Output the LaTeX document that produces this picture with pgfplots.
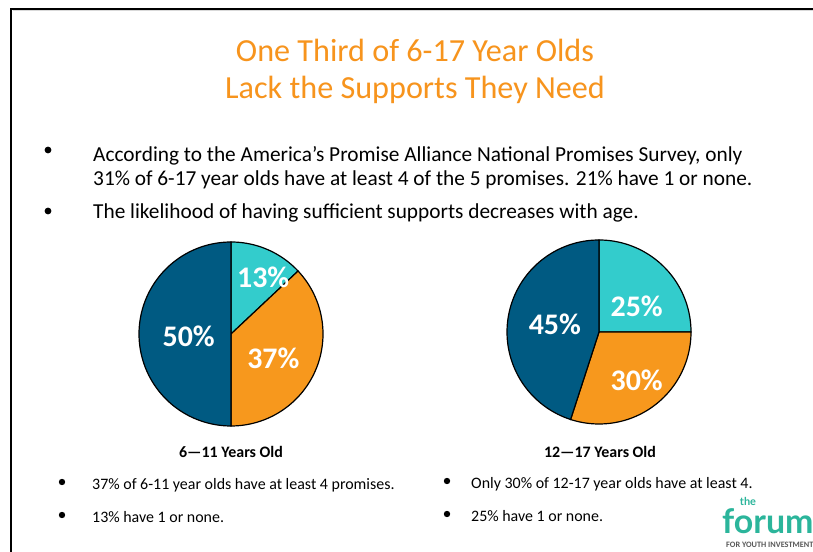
\documentclass[border=0pt]{standalone}
\usepackage{pgfplots}
\pgfplotsset{compat=1.18}
\usepackage{fontspec}
\setmainfont{Carlito}
\newfontfamily\logofont{Lato}
\definecolor{pieblue}{HTML}{005A82}
\definecolor{pieorange}{HTML}{F7981D}
\definecolor{pieteal}{HTML}{33CCCC}
\definecolor{titleorange}{HTML}{F7941D}
\definecolor{forumgreen}{HTML}{2BB59B}
\begin{document}
\begin{tikzpicture}[x=1bp,y=1bp]
\path[use as bounding box, fill=white] (0,0) rectangle (813,552);
% slide border
\draw[black!15, line width=1bp] (13,541) -- (813,541);
\draw[black, line width=2.5bp] (11,0) -- (11,543) -- (813,543);
% title
\node[font=\fontsize{32.3}{38}\selectfont, text=titleorange] at (415,502) {One Third of 6-17 Year Olds};
\node[font=\fontsize{32.3}{38}\selectfont, text=titleorange] at (415,462) {Lack the Supports They Need};
% top bullets
\fill (48,402) circle (3.4bp);
\fill (48,341) circle (3.4bp);
\node[anchor=base west, inner sep=0pt, font=\fontsize{21.4}{25}\selectfont] at (93,390) {According to the America’s Promise Alliance National Promises Survey, only};
\node[anchor=base west, inner sep=0pt, font=\fontsize{21.4}{25}\selectfont] at (93,366) {31\% of 6-17 year olds have at least 4 of the 5 promises. 21\% have 1 or none.};
\node[anchor=base west, inner sep=0pt, font=\fontsize{21.4}{25}\selectfont] at (93,333) {The likelihood of having sufficient supports decreases with age.};
% left pie: 13, 37, 50
\begin{axis}[at={(231bp,218bp)}, anchor=origin, width=184bp, height=184bp, scale only axis, hide axis,
  xmin=-1, xmax=1, ymin=-1, ymax=1, clip=false]
\addplot[fill=pieteal, draw=black, line width=1.2bp, domain={90-3.6*13}:90, samples=40] ({cos(x)},{sin(x)}) -- (0,0) -- cycle;
\addplot[fill=pieorange, draw=black, line width=1.2bp, domain={90-3.6*(13+37)}:{90-3.6*13}, samples=80] ({cos(x)},{sin(x)}) -- (0,0) -- cycle;
\addplot[fill=pieblue, draw=black, line width=1.2bp, domain={90-3.6*100}:{90-3.6*(13+37)}, samples=100] ({cos(x)},{sin(x)}) -- (0,0) -- cycle;
\node[text=white, font=\bfseries\fontsize{30}{32}\selectfont] at (0.35,0.62) {13\%};
\node[text=white, font=\bfseries\fontsize{30}{32}\selectfont] at (0.46,-0.26) {37\%};
\node[text=white, font=\bfseries\fontsize{30}{32}\selectfont] at (-0.46,-0.02) {50\%};
\end{axis}
% right pie: 25, 30, 45
\begin{axis}[at={(599bp,220bp)}, anchor=origin, width=184bp, height=184bp, scale only axis, hide axis,
  xmin=-1, xmax=1, ymin=-1, ymax=1, clip=false]
\addplot[fill=pieteal, draw=black, line width=1.2bp, domain={90-3.6*25}:90, samples=60] ({cos(x)},{sin(x)}) -- (0,0) -- cycle;
\addplot[fill=pieorange, draw=black, line width=1.2bp, domain={90-3.6*(25+30)}:{90-3.6*25}, samples=70] ({cos(x)},{sin(x)}) -- (0,0) -- cycle;
\addplot[fill=pieblue, draw=black, line width=1.2bp, domain={90-3.6*100}:{90-3.6*(25+30)}, samples=100] ({cos(x)},{sin(x)}) -- (0,0) -- cycle;
\node[text=white, font=\bfseries\fontsize{30}{32}\selectfont] at (0.41,0.28) {25\%};
\node[text=white, font=\bfseries\fontsize{30}{32}\selectfont] at (0.41,-0.52) {30\%};
\node[text=white, font=\bfseries\fontsize{30}{32}\selectfont] at (-0.48,0.08) {45\%};
\end{axis}
% pie titles
\node[font=\bfseries\fontsize{16}{18}\selectfont] at (231,100) {6—11 Years Old};
\node[font=\bfseries\fontsize{16}{18}\selectfont] at (600,100) {12—17 Years Old};
% bottom bullets
\fill (62,70) circle (3.2bp);
\fill (62,37) circle (3.2bp);
\fill (447,71) circle (3.2bp);
\fill (447,38) circle (3.2bp);
\node[anchor=base west, inner sep=0pt, font=\fontsize{16}{19}\selectfont] at (92,62) {37\% of 6-11 year olds have at least 4 promises.};
\node[anchor=base west, inner sep=0pt, font=\fontsize{16}{19}\selectfont] at (92,29) {13\% have 1 or none.};
\node[anchor=base west, inner sep=0pt, font=\fontsize{16}{19}\selectfont] at (471,63) {Only 30\% of 12-17 year olds have at least 4.};
\node[anchor=base west, inner sep=0pt, font=\fontsize{16}{19}\selectfont] at (471,30) {25\% have 1 or none.};
% logo
\node[anchor=base, inner sep=0pt, text=forumgreen, font=\logofont\bfseries\fontsize{11}{12}\selectfont] at (748,46) {the};
\node[anchor=base west, inner sep=0pt, text=forumgreen, font=\logofont\bfseries\fontsize{34}{36}\selectfont] at (722,18) {forum};
\node[anchor=base west, inner sep=0pt, text=black!65, font=\bfseries\fontsize{8.3}{9}\selectfont] at (726,4) {FOR YOUTH INVESTMENT};
\end{tikzpicture}
\end{document}
